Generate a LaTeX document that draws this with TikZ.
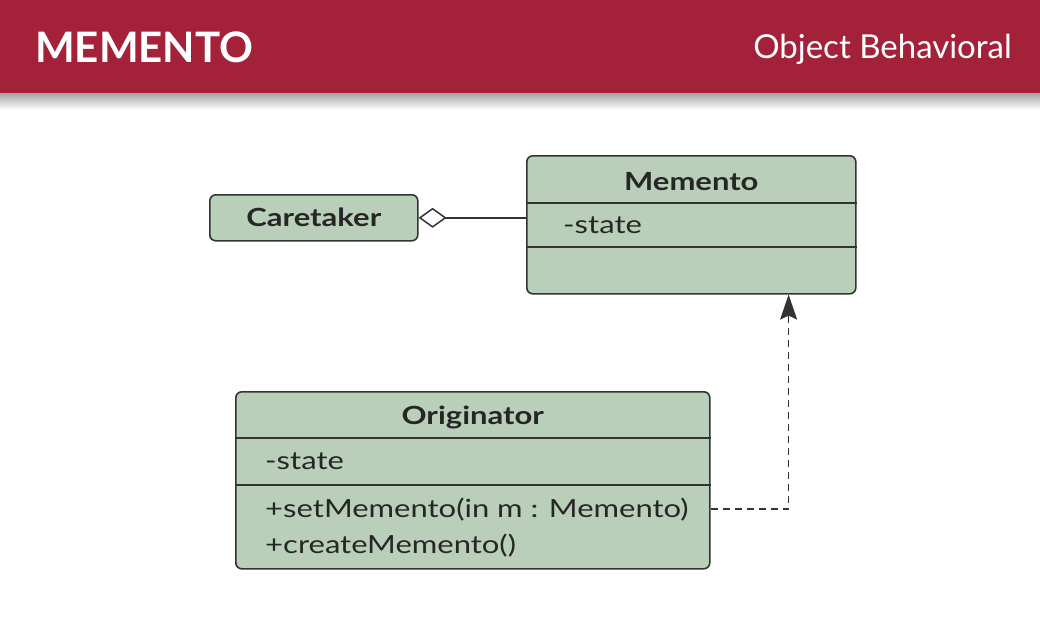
\documentclass[tikz,border=0pt]{standalone}
\usepackage{fontspec}
\setmainfont{Lato}
\newfontfamily\widefont[FakeStretch=1.24]{Lato}
\usetikzlibrary{arrows.meta,calc}
\definecolor{hdr}{HTML}{A4213A}
\definecolor{cls}{HTML}{B9CFB9}
\definecolor{edge}{HTML}{333333}
\begin{document}
\begin{tikzpicture}[x=1pt,y=-1pt,
  box/.style={draw=edge, line width=1.6pt, fill=cls, rounded corners=6pt, inner sep=0pt, anchor=north west},
  divider/.style={draw=edge, line width=1.6pt},
  cname/.style={font=\widefont\fontsize{25}{30}\selectfont\bfseries, text=black!85, inner sep=0pt},
  member/.style={font=\widefont\fontsize{25}{30}\selectfont, text=black!85, inner sep=0pt, anchor=west},
  conn/.style={draw=edge, line width=1.5pt}]
\useasboundingbox (0,0) rectangle (1040,622);
\fill[white] (0,0) rectangle (1040,622);
\shade[top color=black!35, bottom color=white] (0,93) rectangle (1040,110);
\fill[hdr] (0,0) rectangle (1040,93);
\node[font=\fontsize{42}{46}\selectfont\bfseries, text=white, anchor=base west, inner sep=0pt] (title) at (35,62) {MEMENTO};
\node[font=\fontsize{33}{36}\selectfont, text=white, anchor=base east, inner sep=0pt] (kind) at (1012,58) {Object Behavioral};
% Caretaker
\node[box, minimum width=208pt, minimum height=46pt] (care) at (209,194) {};
\node[cname] (caret) at (care.center) {Caretaker};
% Memento
\node[box, minimum width=329pt, minimum height=138pt] (mem) at (526,155) {};
\draw[divider] ($(mem.north west)+(0,48)$) -- ($(mem.north east)+(0,48)$);
\draw[divider] ($(mem.north west)+(0,92)$) -- ($(mem.north east)+(0,92)$);
\node[cname] (memt) at ($(mem.north)+(0,27)$) {Memento};
\node[member] (mems) at ($(mem.north west)+(37,70)$) {-state};
% Originator
\node[box, minimum width=474pt, minimum height=177pt] (orig) at (235,391) {};
\draw[divider] ($(orig.north west)+(0,47)$) -- ($(orig.north east)+(0,47)$);
\draw[divider] ($(orig.north west)+(0,94)$) -- ($(orig.north east)+(0,94)$);
\node[cname] (origt) at ($(orig.north)+(0,26)$) {Originator};
\node[member] (origs) at ($(orig.north west)+(30,70)$) {-state};
\node[member] (origm1) at ($(orig.north west)+(30,119)$) {+setMemento(in m : Memento)};
\node[member] (origm2) at ($(orig.north west)+(30,155)$) {+createMemento()};
% connectors
\draw[conn, {Diamond[open, length=28pt, width=20pt, line width=1.5pt]}-] (care.east) -- (care.east -| mem.west);
\coordinate (bend) at ($(orig.north east)+(78,118)$);
\draw[conn, dash pattern=on 7pt off 5pt, -{Stealth[length=25pt, width=17pt, inset=4pt]}] (orig.east |- bend) -- (bend) -- (bend |- mem.south);
\end{tikzpicture}
\end{document}
